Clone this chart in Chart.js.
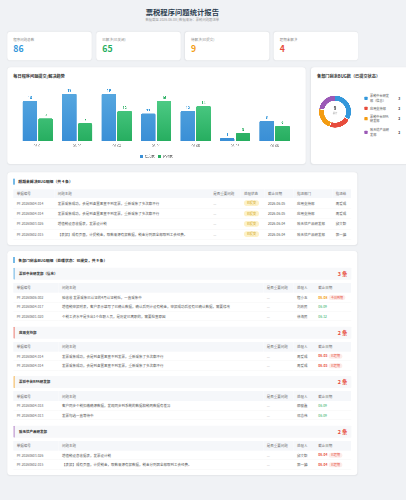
<!DOCTYPE html>
<html><head><meta charset="utf-8">
<script src="https://cdn.jsdelivr.net/npm/chart.js@4/dist/chart.umd.min.js"></script>
<style>
html,body{margin:0;padding:0;overflow:hidden;background:#f0f2f5;width:406px;height:500px;}
#page{position:absolute;left:0;top:0;width:1218px;height:1500px;transform:scale(0.333333);transform-origin:0 0;font-family:"Noto Sans CJK SC","Noto Sans",sans-serif;color:#333;background:#f0f2f5;overflow:hidden;}
.card{position:absolute;background:#fff;border-radius:10px;box-shadow:0 1px 4px rgba(0,0,0,0.05);box-sizing:border-box;}
#title{position:absolute;left:22px;width:1050px;top:22px;text-align:center;font-size:22px;font-weight:bold;color:#2c3e50;line-height:28px;}
#subtitle{position:absolute;left:22px;width:1050px;top:53px;text-align:center;font-size:10px;color:#999;line-height:14px;}
.stat{top:95px;height:86px;width:253px;padding:16px 18px;}
.stat .lb{font-size:10.5px;color:#888;line-height:14px;}
.stat .val{font-size:26px;font-weight:bold;line-height:30px;margin-top:6px;}
.ctitle{position:absolute;left:18px;top:17px;font-size:12.5px;font-weight:bold;color:#333;line-height:18px;}
.sect{font-size:11.5px;font-weight:bold;color:#333;line-height:18px;border-left:4px solid #3498db;padding-left:11px;margin-left:0;}
table{border-collapse:collapse;table-layout:fixed;width:1014px;}
th{background:#f5f7fa;color:#666;font-weight:normal;font-size:10.5px;text-align:left;padding:0 0 0 10px;white-space:nowrap;overflow:hidden;}
td{font-size:10.5px;color:#555;padding:0 0 0 10px;border-bottom:1px solid #f0f0f0;white-space:nowrap;overflow:hidden;}
td.id{color:#666;font-size:10px;}
td.dash{color:#999;}
.badge{display:inline-block;font-size:9px;padding:1px 7px;border-radius:8px;line-height:13px;}
.b-state{background:#fdf1c7;color:#c99a06;padding:2px 9px;}
.b-red{background:#fdecea;color:#e74c3c;margin-left:4px;}
.due-red{color:#e74c3c;font-weight:bold;}
.due-org{color:#f39c12;font-weight:bold;}
.due-grn{color:#27ae60;}
.subh{height:36px;background:#f7f8fa;border-left:4px solid #3498db;box-sizing:border-box;position:relative;margin-bottom:9px;border-radius:2px;}
.subh .nm{position:absolute;left:13px;top:9px;font-size:10.5px;font-weight:bold;color:#333;line-height:18px;}
.subh .ct{position:absolute;right:12px;top:6px;font-size:16px;font-weight:bold;color:#e74c3c;line-height:24px;}
.lg-item{position:absolute;left:160px;width:130px;}
.lg-box{position:absolute;left:0;width:10px;height:10px;border-radius:2px;}
.lg-txt{position:absolute;left:17px;width:62px;font-size:9.5px;color:#555;line-height:14px;}
.lg-val{position:absolute;left:102px;font-size:10px;font-weight:bold;color:#333;line-height:14px;}
</style></head>
<body>
<div id="page">
  <div id="title">票税程序问题统计报告</div>
  <div id="subtitle">数据截至 2026-06-08 | 数据来源：票税问题跟进单</div>
  <div id="stats"></div>
  <div class="card" style="left:22px;top:202px;width:895px;height:290px;">
    <div class="ctitle">每日程序问题提交/解决趋势</div>
    <div style="position:absolute;left:32px;top:42px;width:829px;height:240px;"><canvas id="bar" width="829" height="240"></canvas></div>
  </div>
  <div class="card" style="left:933px;top:202px;width:300px;height:290px;">
    <div class="ctitle">各部门剩余BUG数（已提交状态）</div>
    <div style="position:absolute;left:22px;top:83px;width:100px;height:100px;"><canvas id="pie" width="100" height="100"></canvas></div>
    <div id="pieCenter" style="position:absolute;left:22px;top:116px;width:100px;text-align:center;">
      <div id="pieTotal" style="font-size:13px;font-weight:bold;color:#333;line-height:16px;"></div>
      <div style="font-size:7px;color:#999;line-height:10px;">总计</div>
    </div>
    <div id="pieLegend"></div>
  </div>
  <div class="card" style="left:22px;top:517px;width:1050px;height:218px;padding:19px 18px 0 18px;">
    <div class="sect" style="margin-bottom:14px;">超期未解决BUG明细（共 4 条）</div>
    <table id="overdue"></table>
  </div>
  <div class="card" style="left:22px;top:753px;width:1050px;height:672px;padding:18px 18px 0 18px;">
    <div class="sect" style="margin-bottom:14px;">各部门剩余BUG明细（处理状态：已提交，共 9 条）</div>
    <div id="detail"></div>
  </div>
</div>
<script>
// ---- data ----
const statLabels = ['程序问题总数','已解决(已关闭)','待解决(已提交)','超期未解决'];
const statValues = [86, 65, 9, 4];
const statColors = ['#3498db','#27ae60','#f39c12','#e74c3c'];

const days = ['06-01','06-02','06-03','06-04','06-05','06-06','06-08'];
const submitted = [16, 19, 19, 11, 12, 1, 8];
const resolved = [9, 7, 12, 16, 14, 3, 6];

const depts = ['票税中台研发部（信息）','应用支持部','票税中台RPA研发部','致无忧产品研发部'];
const deptRemaining = [3, 2, 2, 2];
const deptColors = ['#3498db','#e74c3c','#f39c12','#9b59b6'];

const overdueHeaders = ['单据编号','问题主题','是否重要问题','处理状态','截止日期','指派部门','指派给'];
const overdueIds = ['PF-20260604-014','PF-20260604-014','PF-20260603-026','PF-20260602-015'];
const overdueTitles = ['发票采集成功，会是到备置黑查不到发票，重新采集了多次都不行','发票采集成功，会是到备置黑查不到发票，重新采集了多次都不行','增值税设息收据表，发票设计税','【表报】成有页面，计提税金，取数来源有报数据，税金分列器全部取到工会经费。'];
const overdueDue = ['2026-06-05','2026-06-05','2026-06-04','2026-06-04'];
const overdueDept = ['应用支持部','应用支持部','致无忧产品研发部','致无忧产品研发部'];
const overdueOwner = ['周爱成','周爱成','邱文毅','郭一婷'];

const detailHeaders = ['单据编号','问题主题','是否重要问题','处理人','截止日期'];
const detailDept = [0,0,0,1,1,2,2,3,3];
const detailIds = ['PF-20260606-002','PF-20260604-017','PF-20260601-020','PF-20260604-014','PF-20260604-014','PF-20260604-018','PF-20260604-013','PF-20260603-026','PF-20260602-015'];
const detailTitles = ['验收收 发票采集已认证的4月认证税低，一直采集中','增值税申报附表，客户表示填写了已确认数据，确认后列计设有税金，申报成功后没有已确认数据，需要修改','个税工资水平是多出1个在职人员，是历史已离职的，需要检查原因','发票采集成功，会是到备置黑查不到发票，重新采集了多次都不行','发票采集成功，会是到备置黑查不到发票，重新采集了多次都不行','客户同步个税扣缴确源数据，发现同步到系统的数据和税局数据有差异','发票勾选一直等待中','增值税设息收据表，发票设计税','【表报】成有页面，计提税金，取数来源有报数据，税金分列器全部取到工会经费。'];
const detailOwners = ['程小五','刘政民','徐海民','周爱成','周爱成','邵骏鑫','邓志伟','邱文毅','郭一婷'];
const detailDue = ['06-08','06-09','06-12','06-05','06-05','06-09','06-09','06-04','06-04'];
const detailState = ['today','ok','ok','over','over','ok','ok','over','over'];

// ---- stat cards ----
const lefts=[22,289,555,821];
document.getElementById('stats').innerHTML = statLabels.map((l,i)=>
 `<div class="card stat" style="left:${lefts[i]}px"><div class="lb">${l}</div><div class="val" style="color:${statColors[i]}">${statValues[i]}</div></div>`).join('');

// ---- overdue table ----
const ow=[123,467,92,72,87,116,57];
let h='<colgroup>'+ow.map(w=>`<col style="width:${w}px">`).join('')+'</colgroup>';
h+='<tr style="height:26px">'+overdueHeaders.map(x=>`<th>${x}</th>`).join('')+'</tr>';
overdueIds.forEach((id,i)=>{
 h+=`<tr style="height:31px"><td class="id">${id}</td><td>${overdueTitles[i]}</td><td class="dash">—</td><td><span class="badge b-state">已提交</span></td><td style="font-size:10px">${overdueDue[i]}</td><td>${overdueDept[i]}</td><td>${overdueOwner[i]}</td></tr>`;
});
document.getElementById('overdue').innerHTML=h;

// ---- detail ----
const dw=[136,614,91,64,109];
let d='';
depts.forEach((dep,k)=>{
 const idx=detailDept.map((v,i)=>v===k?i:-1).filter(i=>i>=0);
 d+=`<div class="subh" style="border-left-color:${deptColors[k]}"><div class="nm">${dep}</div><div class="ct">${idx.length} 条</div></div>`;
 d+=`<table style="margin-bottom:${k<3?17:0}px"><colgroup>`+dw.map(w=>`<col style="width:${w}px">`).join('')+'</colgroup>';
 d+='<tr style="height:30px">'+detailHeaders.map(x=>`<th>${x}</th>`).join('')+'</tr>';
 idx.forEach(i=>{
   const st=detailState[i];
   let due='';
   if(st==='over') due=`<span class="due-red">${detailDue[i]}</span><span class="badge b-red">已超期</span>`;
   else if(st==='today') due=`<span class="due-org">${detailDue[i]}</span><span class="badge b-red">今日到期</span>`;
   else due=`<span class="due-grn">${detailDue[i]}</span>`;
   d+=`<tr style="height:28px"><td class="id">${detailIds[i]}</td><td>${detailTitles[i]}</td><td class="dash">—</td><td>${detailOwners[i]}</td><td style="font-size:10px">${due}</td></tr>`;
 });
 d+='</table>';
});
document.getElementById('detail').innerHTML=d;

// ---- bar chart ----
function grad(c1,c2){
 return (ctx)=>{const a=ctx.chart.chartArea; if(!a) return c2;
  const g=ctx.chart.ctx.createLinearGradient(0,a.top,0,a.bottom); g.addColorStop(0,c1); g.addColorStop(1,c2); return g;};
}
const valueLabels={id:'valueLabels',afterDatasetsDraw(chart){
 const c=chart.ctx;
 chart.data.datasets.forEach((ds,i)=>{
  chart.getDatasetMeta(i).data.forEach((bar,j)=>{
   c.save(); c.fillStyle=ds.labelColor; c.font='bold 11px "Noto Sans",sans-serif';
   c.textAlign='center'; c.textBaseline='bottom'; c.fillText(ds.data[j],bar.x,bar.y-4); c.restore();
  });
 });
}};
new Chart(document.getElementById('bar'),{
 type:'bar',
 data:{labels:days,datasets:[
  {label:'提交数',data:submitted,backgroundColor:grad('#5dade2','#3a8fd6'),labelColor:'#3498db',borderRadius:{topLeft:4,topRight:4},borderSkipped:'bottom'},
  {label:'解决数',data:resolved,backgroundColor:grad('#5fd896','#27ae60'),labelColor:'#27ae60',borderRadius:{topLeft:4,topRight:4},borderSkipped:'bottom'}
 ]},
 options:{responsive:false,animation:false,
  categoryPercentage:0.8,barPercentage:0.92,
  layout:{padding:0},
  plugins:{legend:{position:'bottom',labels:{boxWidth:9,boxHeight:9,font:{size:10},color:'#666',padding:10}},tooltip:{enabled:false}},
  scales:{x:{grid:{display:false,drawTicks:false},border:{display:false},ticks:{color:'#999',font:{size:10},padding:10}},
          y:{display:false,min:0,max:24}}},
 plugins:[valueLabels]
});

// ---- doughnut ----
new Chart(document.getElementById('pie'),{
 type:'doughnut',
 data:{labels:depts,datasets:[{data:deptRemaining,backgroundColor:deptColors,borderColor:'#fff',borderWidth:2}]},
 options:{responsive:false,animation:false,cutout:'66%',layout:{padding:0},plugins:{legend:{display:false},tooltip:{enabled:false}}}
});
document.getElementById('pieTotal').textContent=deptRemaining.reduce((a,b)=>a+b,0);
const lgTops=[86,123,147,188];
const lgLines=[2,1,2,2];
document.getElementById('pieLegend').innerHTML=depts.map((n,i)=>{
 const t=lgTops[i]-7, mid=t+lgLines[i]*7;
 return `<div class="lg-item" style="top:${t}px"><div class="lg-box" style="background:${deptColors[i]};top:${lgLines[i]*7-5}px"></div><div class="lg-txt">${n}</div><div class="lg-val" style="top:${lgLines[i]*7-7}px">${deptRemaining[i]}</div></div>`;
}).join('');
</script>
</body></html>
